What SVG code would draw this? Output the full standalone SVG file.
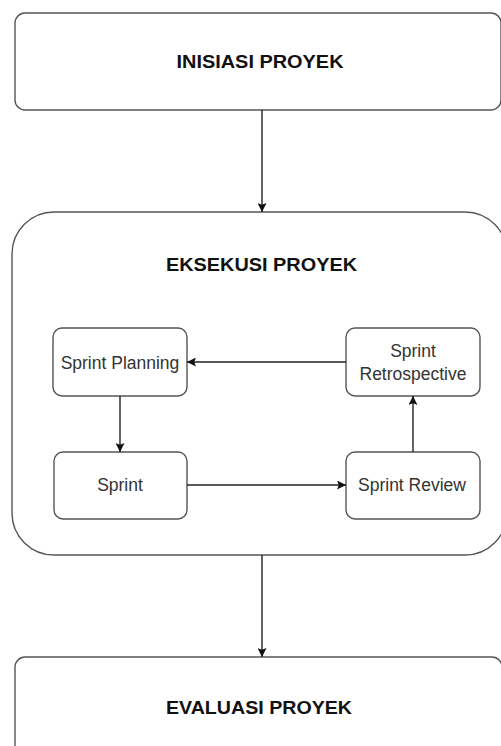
<svg xmlns="http://www.w3.org/2000/svg" width="501" height="746" viewBox="0 0 501 746">
<style>
.box{fill:#fff;stroke:#555;stroke-width:1.4}
.big{font-family:"Liberation Sans",Arial,sans-serif;font-weight:bold;font-size:19px;fill:#111;text-anchor:middle}
.small{font-family:"Liberation Sans",Arial,sans-serif;font-size:17.5px;fill:#333;text-anchor:middle}
.edge{stroke:#222;stroke-width:1.4;fill:none;marker-end:url(#arr)}
</style>
<defs>
<marker id="arr" viewBox="0 0 10 10" refX="10" refY="5" markerWidth="9" markerHeight="9" markerUnits="userSpaceOnUse" orient="auto">
<path d="M0,0 L10,5 L0,10 L2,5 Z" fill="#111"/>
</marker>
</defs>
<rect width="501" height="746" fill="#fff"/>
<g id="inisiasi">
<rect class="box" x="15" y="13" width="486" height="97" rx="10"/>
<text class="big" x="260" y="68" textLength="167" lengthAdjust="spacingAndGlyphs">INISIASI PROYEK</text>
</g>
<g id="eksekusi">
<rect class="box" x="12" y="212" width="495" height="343" rx="42"/>
<text class="big" x="261.5" y="271" textLength="191" lengthAdjust="spacingAndGlyphs">EKSEKUSI PROYEK</text>
</g>
<g id="evaluasi">
<rect class="box" x="15" y="657" width="487" height="120" rx="10"/>
<text class="big" x="259" y="714" textLength="186" lengthAdjust="spacingAndGlyphs">EVALUASI PROYEK</text>
</g>
<g id="sprint-planning">
<rect class="box" x="53" y="328" width="134" height="68" rx="9"/>
<text class="small" x="120" y="369">Sprint Planning</text>
</g>
<g id="sprint">
<rect class="box" x="54" y="452" width="133" height="67" rx="9"/>
<text class="small" x="120" y="491">Sprint</text>
</g>
<g id="sprint-retrospective">
<rect class="box" x="346" y="328" width="134" height="68" rx="9"/>
<text class="small" x="413" y="357">Sprint</text>
<text class="small" x="413" y="380">Retrospective</text>
</g>
<g id="sprint-review">
<rect class="box" x="346" y="452" width="134" height="67" rx="9"/>
<text class="small" x="412" y="491">Sprint Review</text>
</g>
<g id="connectors">
<line class="edge" x1="262" y1="110" x2="262" y2="212"/>
<line class="edge" x1="262" y1="555" x2="262" y2="657"/>
<line class="edge" x1="346" y1="362" x2="187" y2="362"/>
<line class="edge" x1="120" y1="396" x2="120" y2="452"/>
<line class="edge" x1="187" y1="485" x2="346" y2="485"/>
<line class="edge" x1="413" y1="452" x2="413" y2="396"/>
</g>
</svg>
